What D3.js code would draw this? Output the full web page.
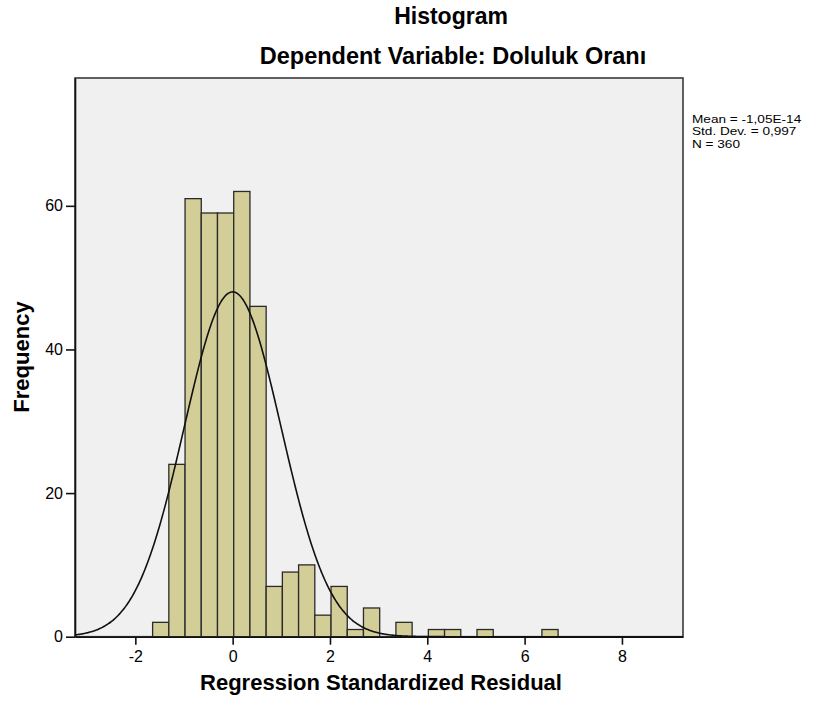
<!DOCTYPE html>
<html>
<head>
<meta charset="utf-8">
<script src="https://cdn.jsdelivr.net/npm/d3@7/dist/d3.min.js"></script>
<style>
  html, body { margin: 0; padding: 0; background: #fff; }
  svg text { font-family: "Liberation Sans", Arial, sans-serif; fill: #000; }
</style>
</head>
<body>
<svg id="chart" width="821" height="705"></svg>
<script>
// Histogram of regression standardized residuals (N = 360)
const binStart = -1.645;
const binWidth = 1 / 3;
const binCounts = [2, 24, 61, 59, 59, 62, 46, 7, 9, 10, 3, 7, 1, 4, 0, 2, 0, 1, 1, 0, 1, 0, 0, 0, 1];
const xTicks = [-2, 0, 2, 4, 6, 8];
const yTicks = [0, 20, 40, 60];
const xDomain = [-3.24, 9.255];
const yDomain = [0, 77.8];
const statLines = ["Mean = -1,05E-14", "Std. Dev. = 0,997", "N = 360"];
const curveMean = -1.05e-14;
const curveSd = 0.997;
const curveN = 360;

const svg = d3.select("#chart");
const plot = { left: 75, top: 78, right: 683, bottom: 636.7 };

const x = d3.scaleLinear().domain(xDomain).range([plot.left, plot.right]);
const y = d3.scaleLinear().domain(yDomain).range([plot.bottom, plot.top]);

// plot background and frame
svg.append("rect")
  .attr("x", plot.left).attr("y", plot.top)
  .attr("width", plot.right - plot.left).attr("height", plot.bottom - plot.top)
  .attr("fill", "#f0f0f0").attr("stroke", "#3a3a3a").attr("stroke-width", 1.6);

const bins = binCounts.map((c, i) => ({
  x0: binStart + i * binWidth,
  x1: binStart + (i + 1) * binWidth,
  count: c
})).filter(d => d.count > 0);

svg.append("g").selectAll("rect")
  .data(bins)
  .join("rect")
  .attr("x", d => x(d.x0))
  .attr("y", d => y(d.count))
  .attr("width", d => x(d.x1) - x(d.x0))
  .attr("height", d => y(0) - y(d.count))
  .attr("fill", "#d3ce98")
  .attr("stroke", "#2a2a2a")
  .attr("stroke-width", 1.3);

// normal curve scaled to counts
const scale = curveN * binWidth / (curveSd * Math.sqrt(2 * Math.PI));
const curvePts = d3.range(0, 601).map(i => {
  const v = xDomain[0] + (xDomain[1] - xDomain[0]) * i / 600;
  return [v, scale * Math.exp(-0.5 * Math.pow((v - curveMean) / curveSd, 2))];
});
svg.append("path")
  .datum(curvePts)
  .attr("fill", "none")
  .attr("stroke", "#111")
  .attr("stroke-width", 1.6)
  .attr("d", d3.line().x(d => x(d[0])).y(d => y(d[1])).curve(d3.curveBasis));

// axes
const xAxis = svg.append("g")
  .attr("transform", `translate(0,${plot.bottom})`)
  .call(d3.axisBottom(x).tickValues(xTicks).tickSizeInner(8).tickSizeOuter(0).tickPadding(6).tickFormat(d3.format("d")));
const yAxis = svg.append("g")
  .attr("transform", `translate(${plot.left},0)`)
  .call(d3.axisLeft(y).tickValues(yTicks).tickSizeInner(9).tickSizeOuter(0).tickPadding(3).tickFormat(d3.format("d")));

[xAxis, yAxis].forEach(g => {
  g.select(".domain").attr("stroke", "#111").attr("stroke-width", 1.6);
  g.selectAll(".tick line").attr("stroke", "#111").attr("stroke-width", 1.6);
  g.selectAll(".tick text").attr("font-size", 16).attr("fill", "#222")
    .style("font-family", "\"Liberation Sans\", Arial, sans-serif");
});
xAxis.selectAll(".tick text").text(d => d < 0 ? "-" + Math.abs(d) : d);

// titles
svg.append("text").attr("x", 451).attr("y", 23.5)
  .attr("text-anchor", "middle").attr("font-size", 23).attr("font-weight", "bold")
  .text("Histogram");
svg.append("text").attr("x", 453).attr("y", 64)
  .attr("text-anchor", "middle").attr("font-size", 23.5).attr("font-weight", "bold")
  .text("Dependent Variable: Doluluk Oranı");

svg.append("text").attr("x", 381).attr("y", 690)
  .attr("text-anchor", "middle").attr("font-size", 22).attr("font-weight", "bold")
  .text("Regression Standardized Residual");
svg.append("text")
  .attr("transform", "translate(29,357) rotate(-90)")
  .attr("text-anchor", "middle").attr("font-size", 22).attr("font-weight", "bold")
  .text("Frequency");

// summary statistics: compact lines, widened to their natural 13.6px width
const stats = svg.append("g").selectAll("text")
  .data(statLines)
  .join("text")
  .attr("x", 692)
  .attr("y", (d, i) => 123 + i * 12.4)
  .attr("font-size", 13.6)
  .text(d => d);
stats.each(function () {
  const w = this.getComputedTextLength();
  d3.select(this)
    .attr("font-size", 11.6)
    .attr("textLength", w)
    .attr("lengthAdjust", "spacingAndGlyphs");
});
</script>
</body>
</html>
